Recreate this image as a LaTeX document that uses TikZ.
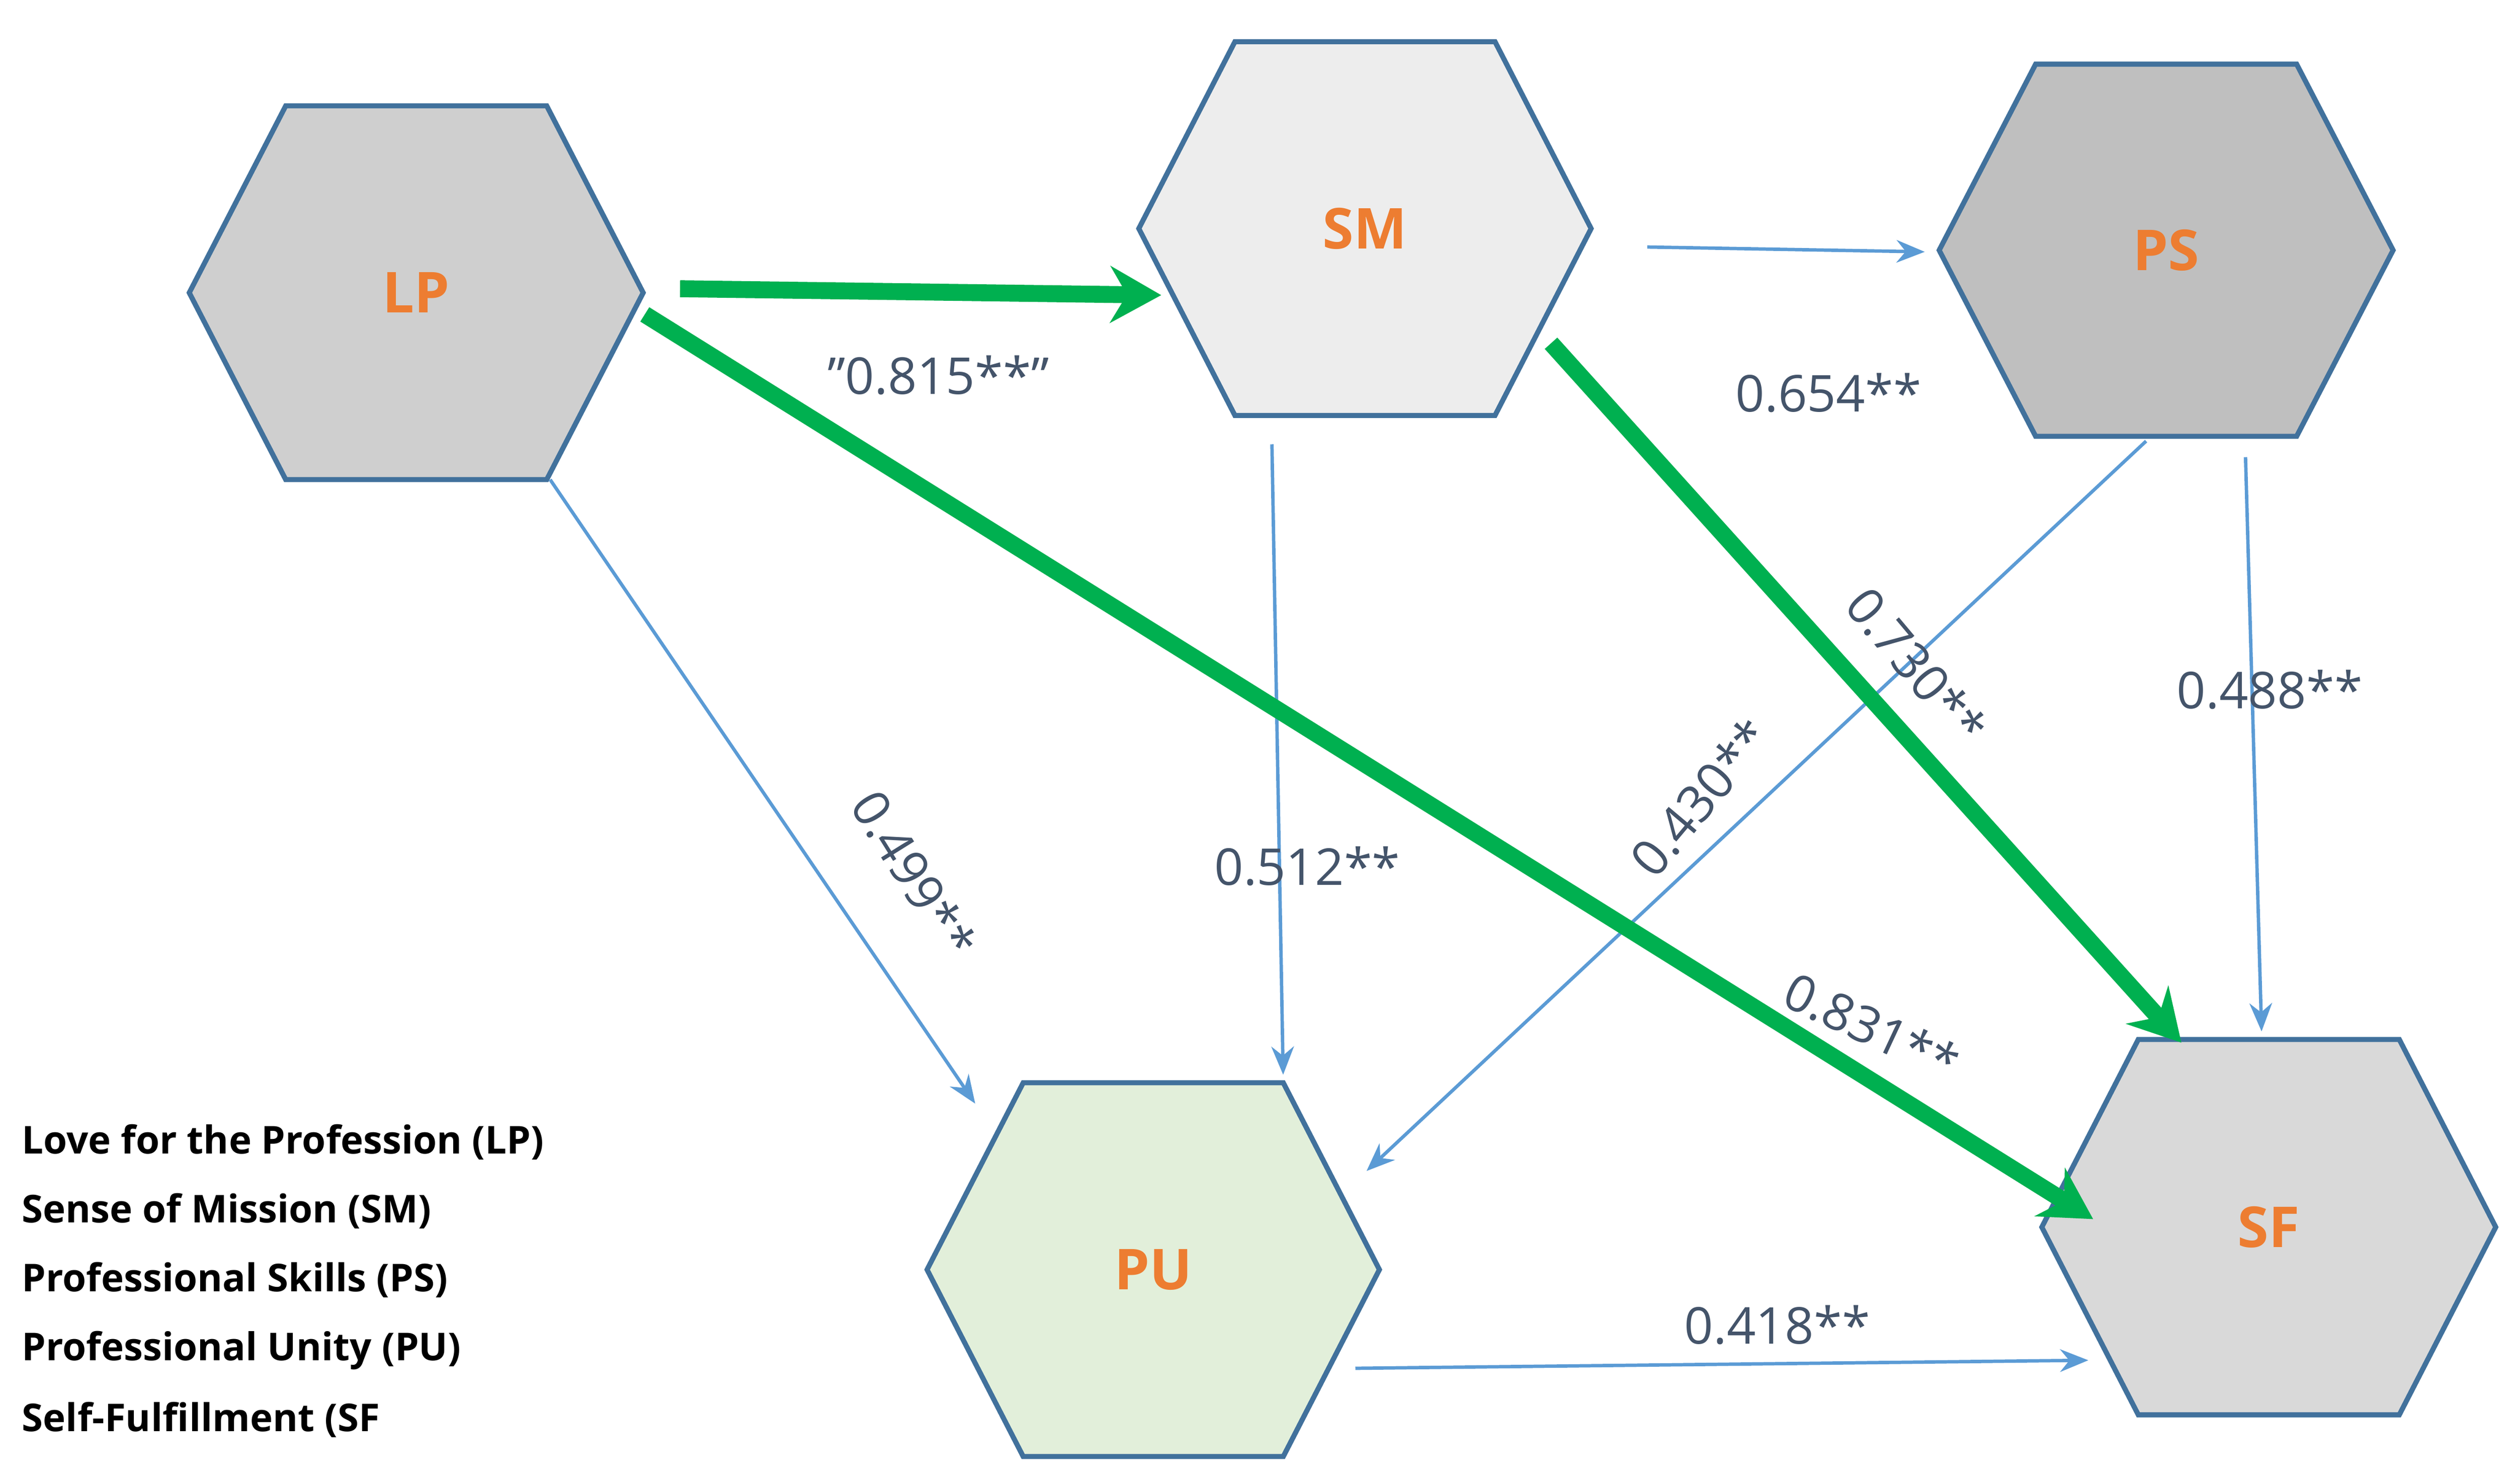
\documentclass[tikz,border=0pt]{standalone}
\usepackage{fontspec}
\setmainfont{Open Sans}[Ligatures=NoCommon]
\usetikzlibrary{arrows.meta}
\definecolor{hexedge}{HTML}{41719C}
\definecolor{thin}{HTML}{5B9BD5}
\definecolor{grn}{HTML}{00B050}
\definecolor{lbl}{HTML}{44546A}
\definecolor{org}{HTML}{ED7D31}
\tikzset{
 hexa/.style={draw=hexedge,line width=0.9pt},
 thinarr/.style={draw=thin,line width=0.6pt,-{Stealth[length=5pt,width=4pt]}},
 grnarr/.style={draw=grn,line width=3pt,-{Stealth[length=9pt,width=10pt]}},
 val/.style={text=lbl,font=\fontsize{9}{10}\selectfont},
 hexlbl/.style={text=org,font=\bfseries\fontsize{10}{11}\selectfont},
 leg/.style={anchor=west,inner sep=0pt,font=\bfseries\fontsize{6.8}{8}\selectfont}
}
\newcommand{\hexag}[6]{% name, left x, top y, right x, bottom y, fill
 \pgfmathsetmacro{\cy}{(#3+#5)/2}\pgfmathsetmacro{\w}{(#4-#2)/4.8}
 \fill[#6] (#2,\cy) -- (#2+\w*1.02,#3) -- (#4-\w*1.02,#3) -- (#4,\cy) -- (#4-\w*1.02,#5) -- (#2+\w*1.02,#5) -- cycle;
 \draw[hexa] (#2,\cy) -- (#2+\w*1.02,#3) -- (#4-\w*1.02,#3) -- (#4,\cy) -- (#4-\w*1.02,#5) -- (#2+\w*1.02,#5) -- cycle;
 \node[hexlbl] (#1) at ({(#2+#4)/2},\cy) {#1};}
\begin{document}
\begin{tikzpicture}[x=0.01cm,y=-0.01cm]
\useasboundingbox (0,0) rectangle (1568,925);
\hexag{LP}{118}{66}{401}{299}{fill=black!19}
\hexag{SM}{710}{26}{992}{259}{fill=black!7}
\hexag{PS}{1209}{40}{1492}{272}{fill=black!25}
\hexag{PU}{578}{675}{860}{908}{fill={rgb,255:red,226;green,239;blue,218}}
\hexag{SF}{1273}{648}{1556}{882}{fill=black!15}
\coordinate (a1) at (1027,154); \coordinate (a2) at (1200,157);
\coordinate (b1) at (343,299); \coordinate (b2) at (608,688);
\coordinate (c1) at (793,277); \coordinate (c2) at (800,670);
\coordinate (d1) at (1338,275); \coordinate (d2) at (852,730);
\coordinate (e1) at (1400,285); \coordinate (e2) at (1410,643);
\coordinate (f1) at (845,853); \coordinate (f2) at (1302,848);
\coordinate (g1) at (424,180); \coordinate (g2) at (724,184);
\coordinate (h1) at (402,196); \coordinate (h2) at (1305,760);
\coordinate (i1) at (967,214); \coordinate (i2) at (1360,650);
\draw[thinarr] (a1) -- (a2);
\draw[thinarr] (b1) -- (b2);
\draw[thinarr] (c1) -- (c2);
\draw[thinarr] (d1) -- (d2);
\draw[thinarr] (e1) -- (e2);
\draw[thinarr] (f1) -- (f2);
\draw[grnarr] (g1) -- (g2);
\draw[grnarr] (h1) -- (h2);
\draw[grnarr] (i1) -- (i2);
\node[val] (v1) at (585,234) {\symbol{"22}0.815**\symbol{"22}};
\node[val] (v2) at (1140,245) {0.654**};
\node[val,rotate=-50] (v3) at (1195,415) {0.730**};
\node[val] (v4) at (1415,430) {0.488**};
\node[val,rotate=50] (v5) at (1060,497) {0.430**};
\node[val] (v6) at (815,540) {0.512**};
\node[val,rotate=-58] (v7) at (570,545) {0.499**};
\node[val,rotate=-25] (v8) at (1167,640) {0.831**};
\node[val] (v9) at (1108,826) {0.418**};
\node[leg] (l1) at (13,712) {Love for the Profession (LP)};
\node[leg] (l2) at (13,755) {Sense of Mission (SM)};
\node[leg] (l3) at (13,798) {Professional Skills (PS)};
\node[leg] (l4) at (13,842) {Professional Unity (PU)};
\node[leg] (l5) at (13,885) {Self-Fulfillment (SF};
\end{tikzpicture}
\end{document}
